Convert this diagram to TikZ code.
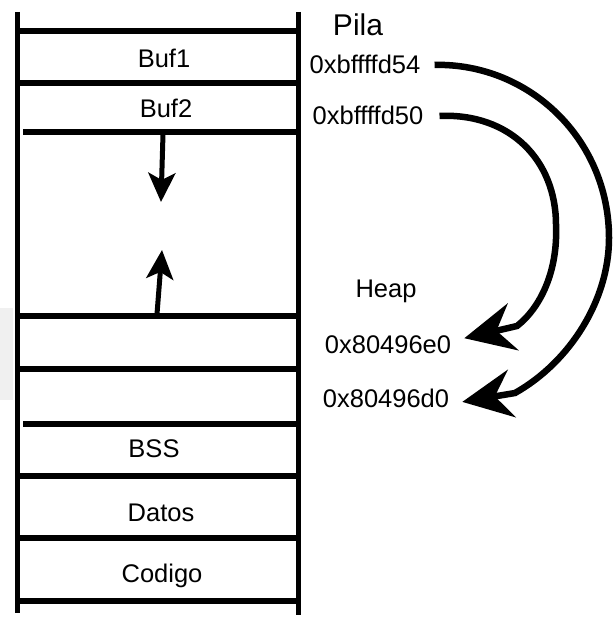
\documentclass[tikz,border=0pt]{standalone}
\usepackage{fontspec}
\setmainfont{Liberation Sans}
\usetikzlibrary{arrows.meta}
\tikzset{
  wall/.style={line width=5pt},
  shelf/.style={line width=5.5pt},
  lbl/.style={inner sep=0pt, anchor=base, font=\fontsize{25.5}{30}\selectfont},
  biglbl/.style={inner sep=0pt, anchor=base, font=\fontsize{30}{36}\selectfont},
  growarrow/.style={line width=5pt, -{Stealth[length=29pt,width=27pt,inset=7pt]}},
  ptr/.style={line width=6.5pt, -{Stealth[length=50pt,width=48pt,inset=17pt]}}
}
\begin{document}
\begin{tikzpicture}[x=1pt,y=1pt]
\useasboundingbox (0,0) rectangle (614,-617);
\fill[black!6] (0,-308) rectangle (13,-400);
% walls
\draw[wall] (17,-12) -- (17,-613);
\draw[wall] (298,-12) -- (298,-615);
% shelves
\draw[shelf] (17,-31) -- (298,-31);
\draw[shelf] (17,-83) -- (298,-83);
\draw[shelf] (23,-132) -- (298,-132);
\draw[shelf] (17,-316) -- (298,-316);
\draw[shelf] (17,-369) -- (298,-369);
\draw[shelf] (23,-424) -- (301,-424);
\draw[shelf] (17,-476) -- (298,-476);
\draw[shelf] (17,-538) -- (298,-538);
\draw[shelf] (17,-601) -- (298,-601);
% labels inside
\node[lbl] (buf1) at (164,-68) {Buf1};
\node[lbl] (buf2) at (166,-118) {Buf2};
\node[lbl] (bss) at (154,-457) {BSS};
\node[lbl] (datos) at (161,-521) {Datos};
\node[lbl] (codigo) at (162,-582) {Codigo};
% labels outside
\node[biglbl] (pila) at (358,-36) {Pila};
\node[lbl] (a1) at (365,-74) {0xbffffd54};
\node[lbl] (a2) at (368,-125) {0xbffffd50};
\node[lbl] (heap) at (386,-297) {Heap};
\node[lbl] (h1) at (388,-353) {0x80496e0};
\node[lbl] (h2) at (386,-407) {0x80496d0};
% growth arrows
\coordinate (sTop) at (163,-134);
\coordinate (sTip) at (161,-202);
\coordinate (hBot) at (157,-314);
\coordinate (hTip) at (162,-250);
\draw[growarrow] (sTop) -- (sTip);
\draw[growarrow] (hBot) -- (hTip);
% pointers
\coordinate (m1) at (609,-238);
\coordinate (b1) at (515,-393);
\coordinate (m2) at (556,-225);
\coordinate (b2) at (517,-326);
\draw[ptr] ([xshift=14pt]a1.east) .. controls (530,-63) and (609,-140) .. (m1)
  .. controls (609,-300) and (570,-362) .. (b1) -- ([xshift=13pt,yshift=-4pt]h2.east);
\draw[ptr] ([xshift=16pt]a2.east) .. controls (510,-113) and (556,-160) .. (m2)
  .. controls (558,-272) and (540,-308) .. (b2) -- ([xshift=13pt,yshift=6pt]h1.east);
\end{tikzpicture}
\end{document}
